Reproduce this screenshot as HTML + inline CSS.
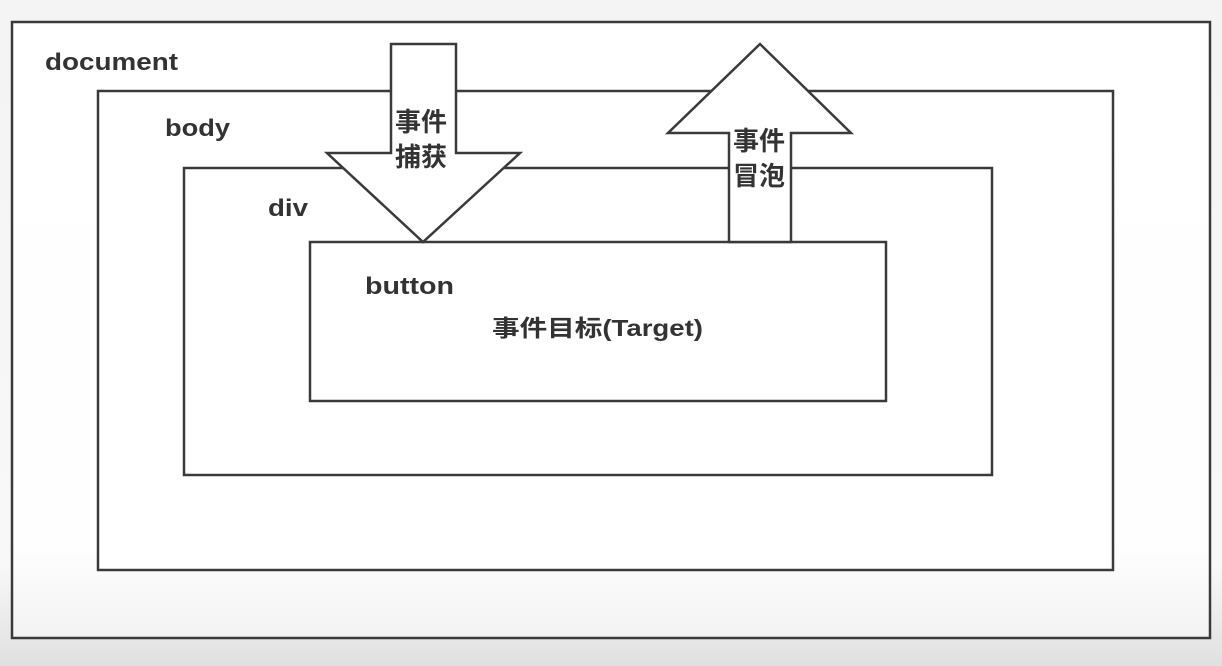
<!DOCTYPE html>
<html><head><meta charset="utf-8"><style>
html,body{margin:0;padding:0;width:1222px;height:666px;overflow:hidden}
body{background:linear-gradient(#f4f4f4,#f8f8f8 85%,#e0e0e0 100%)}
text{font-family:"Liberation Sans","Noto Sans CJK SC",sans-serif;font-weight:bold;fill:#333}
</style></head><body>
<svg width="1222" height="666" viewBox="0 0 1222 666" xmlns="http://www.w3.org/2000/svg">
<defs><linearGradient id="g" x1="0" y1="0" x2="0" y2="1"><stop offset="0" stop-color="#fff"/><stop offset="0.85" stop-color="#fefefe"/><stop offset="1" stop-color="#f3f3f3"/></linearGradient></defs>
<g stroke="#3a3a3a" stroke-width="2.5" fill="none">
<rect x="12" y="22" width="1198" height="616" fill="url(#g)"/>
<rect x="98" y="91" width="1015" height="479" fill="#fff"/>
<rect x="184" y="168" width="808" height="307" fill="#fff"/>
<rect x="310" y="242" width="576" height="159" fill="#fff"/>
<polygon points="391,44 456,44 456,153 520,153 423,242 327,153 391,153" fill="#fff"/>
<polygon points="760,44 851,133 791,133 791,242 729,242 729,133 668,133" fill="#fff"/>
</g>
<text x="45" y="70" font-size="24" textLength="133" lengthAdjust="spacingAndGlyphs">document</text>
<text x="165" y="136" font-size="24" textLength="65" lengthAdjust="spacingAndGlyphs">body</text>
<text x="268" y="216" font-size="24" textLength="40" lengthAdjust="spacingAndGlyphs">div</text>
<text x="365" y="294" font-size="24" textLength="89" lengthAdjust="spacingAndGlyphs">button</text>
<text x="492" y="336" font-size="23" textLength="211" lengthAdjust="spacingAndGlyphs">事件目标(Target)</text>
<text x="395" y="131" font-size="26">事件</text>
<text x="395" y="166" font-size="26">捕获</text>
<text x="733" y="150" font-size="26">事件</text>
<text x="733" y="185" font-size="26">冒泡</text>
</svg>
</body></html>
